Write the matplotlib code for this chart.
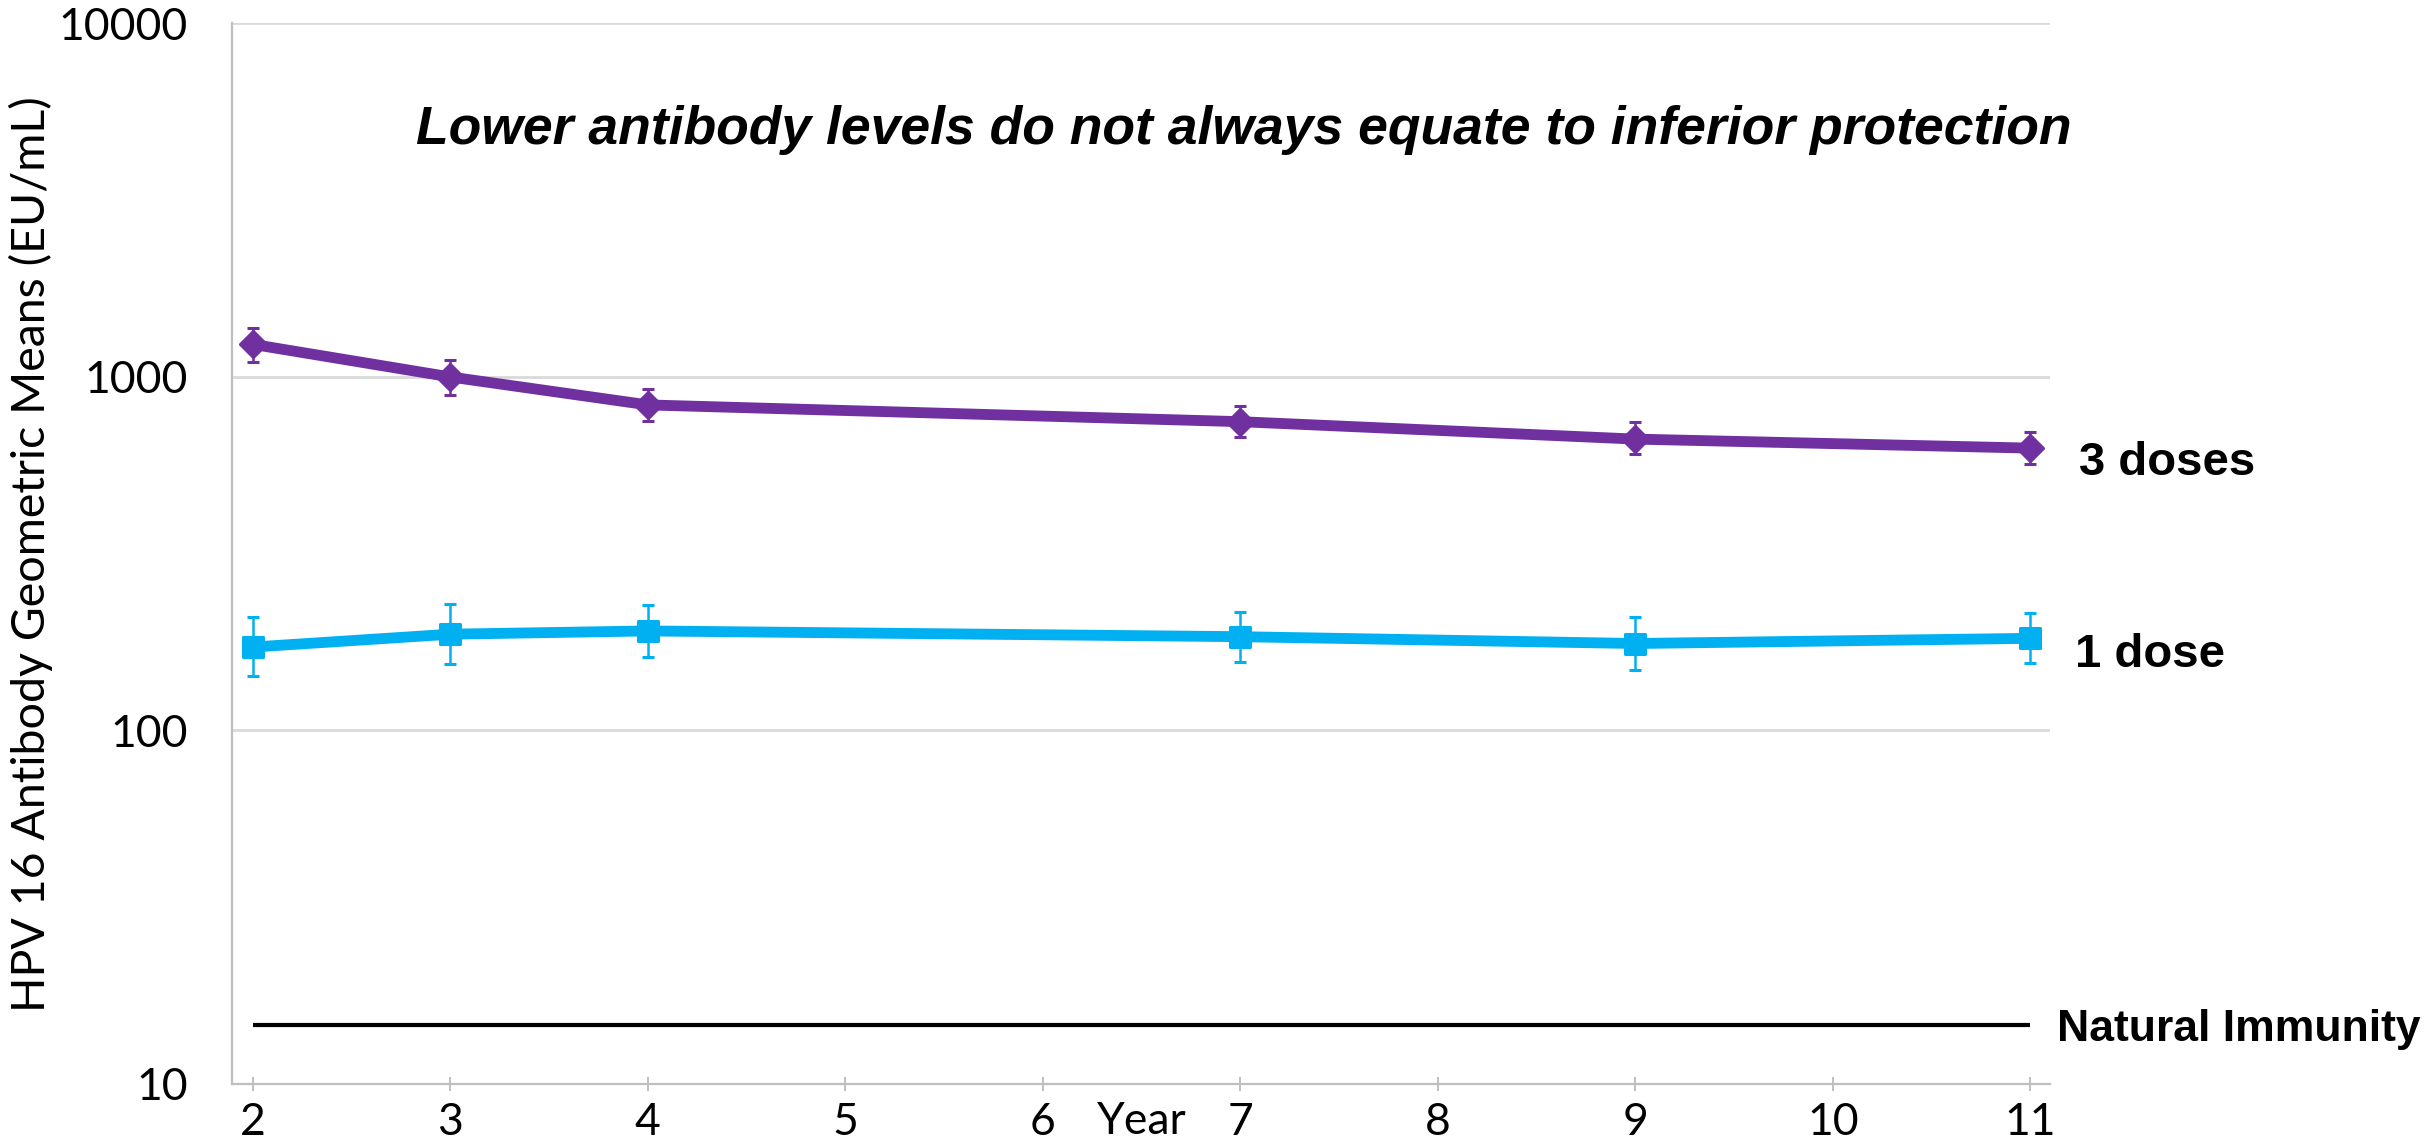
import matplotlib
matplotlib.use("Agg")
import matplotlib.pyplot as plt
from matplotlib.markers import MarkerStyle
import numpy as np

# Follow-up years
years = [2, 3, 4, 7, 9, 11]

# HPV 16 geometric mean titres (EU/mL) with 95% CI bounds
gmt_3dose = [1234, 998, 832, 746, 666, 628]
lo_3dose = [1098, 887, 750, 676, 603, 565]
hi_3dose = [1377, 1114, 923, 826, 746, 696]

gmt_1dose = [172, 187, 191, 184, 176, 182]
lo_1dose = [142, 154, 161, 156, 148, 155]
hi_1dose = [209, 227, 226, 216, 209, 214]

natural_immunity = 14.7

xticks = [2, 3, 4, 5, 6, 7, 8, 9, 10, 11]
yticks = [10, 100, 1000, 10000]
ytick_labels = ["10", "100", "1000", "10000"]

series_labels = ["3 doses", "1 dose"]
natural_label = "Natural Immunity"
ylabel = "HPV 16 Antibody Geometric Means (EU/mL)"
xlabel = "Year"
headline = "Lower antibody levels do not always equate to inferior protection"

PURPLE = "#7030A0"
BLUE = "#00B0F0"
GRID = "#D9D9D9"
AXIS = "#BFBFBF"

W, H, DPI = 2432, 1146, 100
fig = plt.figure(figsize=(W / DPI, H / DPI), dpi=DPI)
ax = fig.add_axes([232 / W, 1 - 1084 / H, (2050 - 232) / W, (1084 - 23) / H])

ax.set_yscale("log")
ax.set_ylim(10, 10000)
ax.set_xlim(1.894, 11.10)

ax.set_yticks(yticks)
ax.set_yticklabels(ytick_labels)
ax.yaxis.set_minor_locator(matplotlib.ticker.NullLocator())
ax.set_xticks(xticks)
ax.set_xticklabels([str(t) for t in xticks])

ax.grid(True, axis="y", color=GRID, lw=2.0, zorder=0)
ax.set_axisbelow(True)
for side in ("top", "right"):
    ax.spines[side].set_visible(False)
for side in ("left", "bottom"):
    ax.spines[side].set_color(AXIS)
    ax.spines[side].set_linewidth(1.6)

tick_family = ["Lato", "DejaVu Sans"]
tick_size = 32
ax.tick_params(axis="y", length=0, pad=32)
ax.tick_params(axis="x", direction="inout", length=10, width=1.4, color=AXIS, pad=8)
for lab in ax.get_xticklabels() + ax.get_yticklabels():
    lab.set_fontfamily(tick_family)
    lab.set_fontsize(tick_size)

# Series with error bars
def draw_series(y, lo, hi, color, marker, ms):
    y = np.asarray(y, float)
    err = np.vstack([y - np.asarray(lo, float), np.asarray(hi, float) - y])
    ax.errorbar(years, y, yerr=err, color=color, lw=7.8,
                marker=MarkerStyle(marker, joinstyle="round"), ms=ms, mew=2.2,
                mec=color, mfc=color, ecolor=color, elinewidth=1.8,
                capsize=4.6, capthick=1.8, solid_joinstyle="round",
                solid_capstyle="butt", zorder=3)

draw_series(gmt_3dose, lo_3dose, hi_3dose, PURPLE, "D", 13)
draw_series(gmt_1dose, lo_1dose, hi_1dose, BLUE, "s", 14)

ax.hlines(natural_immunity, years[0], years[-1], color="black", lw=3, zorder=2)

# Right-hand series labels
label_font = dict(family="Liberation Sans", weight="bold")
ax.annotate(series_labels[0], xy=(years[-1], gmt_3dose[-1]), xytext=(35, -19.4),
            textcoords="offset points", ha="left", va="baseline",
            fontsize=34, annotation_clip=False, **label_font)
ax.annotate(series_labels[1], xy=(years[-1], gmt_1dose[-1]), xytext=(32, -20.4),
            textcoords="offset points", ha="left", va="baseline",
            fontsize=34, annotation_clip=False, **label_font)
ax.annotate(natural_label, xy=(years[-1], natural_immunity), xytext=(19.4, -11.5),
            textcoords="offset points", ha="left", va="baseline",
            fontsize=32, annotation_clip=False, **label_font)

# Axis titles
fig.text(31 / W, 1 - 554 / H, ylabel, rotation=90, ha="center", va="center",
         family=tick_family, fontsize=33.5)
fig.text(1142 / W, 1 - 1134 / H, xlabel, ha="center", va="baseline",
         family=tick_family, fontsize=32)

# Headline message
fig.text(416 / W, 1 - 144 / H, headline, ha="left", va="baseline",
         family="Liberation Sans", weight="bold", style="italic", fontsize=38.5)

fig.savefig("out.png", dpi=DPI, facecolor="white")
